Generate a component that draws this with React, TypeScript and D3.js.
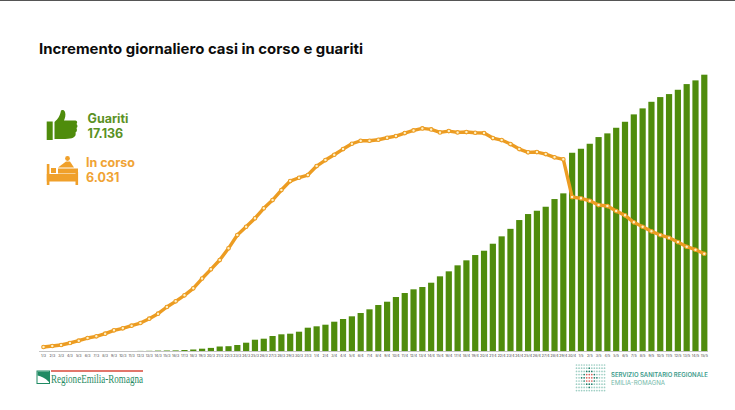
import React from "react";
import * as d3 from "d3";

const title = "Incremento giornaliero casi in corso e guariti";
const dates = [
  "1/3","2/3","3/3","4/3","5/3","6/3","7/3","8/3","9/3","10/3","11/3","12/3","13/3","14/3","15/3","16/3","17/3","18/3","19/3","20/3","21/3","22/3","23/3","24/3","25/3","26/3","27/3","28/3","29/3","30/3","31/3",
  "1/4","2/4","3/4","4/4","5/4","6/4","7/4","8/4","9/4","10/4","11/4","12/4","13/4","14/4","15/4","16/4","17/4","18/4","19/4","20/4","21/4","22/4","23/4","24/4","25/4","26/4","27/4","28/4","29/4","30/4",
  "1/5","2/5","3/5","4/5","5/5","6/5","7/5","8/5","9/5","10/5","11/5","12/5","13/5","14/5","15/5",
];
const guariti = [
  0,0,0,0,0,0,0,0,0,0,0,6,12,25,31,37,62,93,143,192,279,298,372,515,700,763,930,1035,1073,1197,1445,
  1531,1631,1817,1984,2151,2356,2585,2852,3057,3348,3596,3825,3968,4235,4631,4941,5313,5623,5952,6219,6653,7111,7576,8122,8494,8699,8947,9424,9777,12295,
  12543,12853,13268,13497,13845,14217,14675,15047,15456,15748,15934,16201,16554,16784,17136,
];
const inCorso = [
  248,310,372,496,639,806,911,1073,1283,1407,1569,1736,2003,2313,2728,3081,3453,3887,4495,5065,5642,6367,7192,7707,8227,8847,9362,9982,10540,10745,10912,
  11470,11842,12171,12524,12853,13039,13039,13101,13225,13330,13516,13683,13807,13745,13559,13640,13559,13578,13535,13516,13206,13082,12834,12524,12319,12338,12214,12009,11885,9548,
  9467,9319,9052,8990,8680,8413,7979,7707,7421,7192,7025,6758,6467,6281,6031,
];
const legendGuariti = ["Guariti", "17.136"];
const legendInCorso = ["In corso", "6.031"];
const logoLeft = "RegioneEmilia-Romagna";
const logoRight = ["SERVIZIO SANITARIO REGIONALE", "EMILIA-ROMAGNA"];

const GREEN = "#4f8c0c";
const ORANGE = "#ec9c22";
const SANS = "Inter, 'Open Sans', sans-serif";

const x = d3.scalePoint<string>().domain(dates).range([43.5, 704.3]);
const y = d3.scaleLinear().domain([0, 17136]).range([351, 74.7]);
const line = d3
  .line<number>()
  .x((_, i) => x(dates[i]) as number)
  .y((d) => y(d));

function dotColor(c: number, r: number) {
  const dx = Math.abs(c - 5);
  const dy = Math.abs(r - 4);
  if (dx <= 1 && dy <= 1) return "#d9605a";
  if (dx + dy <= 3) return "#1f7f6a";
  return "#9fcfc4";
}
const gridCols = d3.range(12);
const gridRows = d3.range(9);

export default function App() {
  return (
    <svg width={735} height={410} viewBox="0 0 735 410" style={{ position: "absolute", left: 0, top: 0, background: "#fff" }}>
      <line x1={0} x2={735} y1={0.5} y2={0.5} stroke="#555" />
      <text x={39} y={54} fontFamily={SANS} fontWeight={700} fontSize={14.5} fill="#0c0c0c" textLength={324} lengthAdjust="spacingAndGlyphs">{title}</text>

      {/* thumbs-up icon */}
      <g fill={GREEN}>
        <rect x={46.7} y={121.5} width={6} height={18.5} />
        <path d="M54.5 122 C58 119 60 116 61 110.5 C61.5 109.5 64.5 109.5 65 112 C66 115 65 118 64 120.5 L75.5 120.5 C77.5 121 77.5 123 76.5 124 C77.8 125 77.8 127.5 76.5 128 C77.3 129.5 77 132 75.5 132.5 C76 134 75.5 136.5 74 137 C72 139 66 139 54.5 139 Z" />
      </g>
      {/* bed icon */}
      <g fill="#f0a02a">
        <rect x={46.8} y={164} width={2.6} height={21} />
        <rect x={75.5} y={172} width={2.6} height={13} />
        <rect x={46.8} y={174} width={31} height={7.5} />
        <rect x={51} y={168} width={5} height={5} />
        <rect x={58} y={168.5} width={20} height={5} />
        <circle cx={67.5} cy={158.5} r={2.4} />
        <path d="M58 167.5 L66 161.5 L70 161.5 L74 167.5 Z" />
      </g>
      <g fontFamily={SANS} fontWeight={700} fontSize={12.5}>
        <text x={87.5} y={122.5} fill="#5a9124">{legendGuariti[0]}</text>
        <text x={87.5} y={137.7} fill="#5a9124">{legendGuariti[1]}</text>
        <text x={86} y={167.3} fill="#f0a334">{legendInCorso[0]}</text>
        <text x={86} y={182} fill="#f0a334">{legendInCorso[1]}</text>
      </g>

      {/* bars */}
      {guariti.map((v, i) => (
        <rect key={dates[i]} x={(x(dates[i]) as number) - 3.1} width={6.2} y={y(v)} height={351 - y(v)} fill={GREEN} />
      ))}
      <line x1={39} x2={708} y1={351.5} y2={351.5} stroke="#b5b5b5" strokeWidth={0.8} />
      <g fontFamily={SANS} fontSize={3.6} fill="#444" textAnchor="middle">
        {dates.map((d) => (
          <text key={d} x={x(d)} y={356.5}>{d}</text>
        ))}
      </g>

      {/* line */}
      <path d={line(inCorso) as string} fill="none" stroke={ORANGE} strokeWidth={3.4} strokeLinejoin="round" />
      {inCorso.map((v, i) => (
        <circle key={dates[i]} cx={x(dates[i])} cy={y(v)} r={1.8} fill="#fff0c4" stroke={ORANGE} strokeWidth={1.1} />
      ))}

      {/* left logo */}
      <rect x={37} y={371} width={12.5} height={12.5} fill="#fff" stroke="#1f8a63" strokeWidth={1} />
      <path d="M37.5 371.5 H49 V382 C45 378 41 376 37.5 375.5 Z" fill="#1f8a63" />
      <line x1={51} x2={143} y1={371} y2={371} stroke="#d8483a" strokeWidth={1.5} />
      <text x={51} y={383.3} fontFamily="'Liberation Serif', serif" fontSize={12} fill="#1f8a63" textLength={92} lengthAdjust="spacingAndGlyphs">{logoLeft}</text>

      {/* right logo */}
      {gridCols.map((c) =>
        gridRows.map((r) => (
          <circle key={`${c}-${r}`} cx={576.5 + c * 2.55} cy={365 + r * 3.2} r={0.85} fill={dotColor(c, r)} />
        ))
      )}
      <text x={611} y={377.3} fontFamily={SANS} fontWeight={600} fontSize={5.6} fill="#3a9a8a" textLength={97} lengthAdjust="spacingAndGlyphs">{logoRight[0]}</text>
      <text x={611} y={385} fontFamily={SANS} fontSize={5.6} fill="#72b8a8" textLength={54} lengthAdjust="spacingAndGlyphs">{logoRight[1]}</text>
    </svg>
  );
}
